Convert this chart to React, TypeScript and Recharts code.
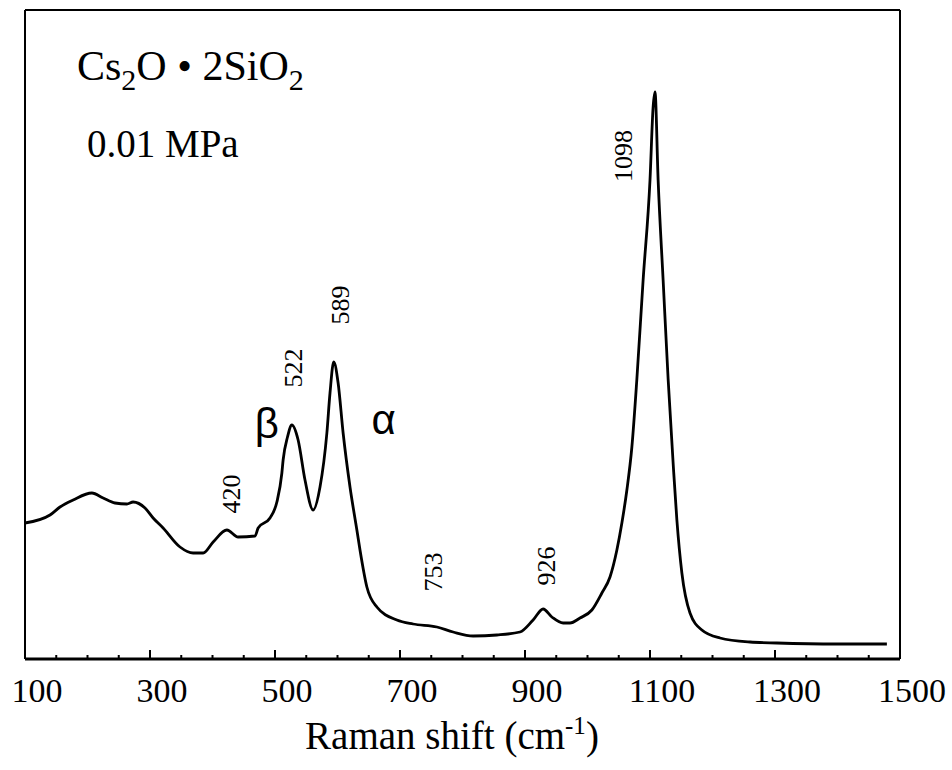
import { LineChart, Line, XAxis, YAxis, ReferenceDot } from 'recharts';

// Raman spectrum (intensity in arbitrary units)
const SHIFT = [
  100, 140, 156, 177, 207, 225, 244, 263, 273, 292, 305, 321, 348, 369, 385, 401, 423, 441, 468, 473,
  492, 503, 511, 513, 520, 527, 537, 548, 561, 572, 583, 588, 594, 601, 609, 620, 631, 636, 647, 663,
  695, 721, 759, 785, 817, 855, 892, 913, 929, 943, 961, 972, 988, 1007, 1023, 1036, 1047, 1055, 1063, 1071,
  1079, 1089, 1100, 1105, 1108, 1113, 1121, 1129, 1137, 1143, 1151, 1164, 1183, 1212, 1260, 1303, 1400, 1479,
];
const INTENSITY = [
  136, 144, 152, 159, 166, 161, 156, 155, 157, 151, 141, 131, 112, 106, 106, 117, 129, 122, 123, 131,
  141, 157, 186, 199, 222, 234, 219, 179, 149, 172, 226, 266, 297, 276, 226, 172, 129, 109, 72, 52,
  39, 35, 32, 27, 23, 24, 27, 39, 50, 42, 36, 36, 41, 49, 66, 82, 109, 136, 169, 212,
  280, 379, 479, 552, 567, 479, 379, 280, 196, 139, 86, 46, 29, 21, 17, 16, 15, 15,
];

const X_TICKS = [100, 150, 200, 250, 300, 350, 400, 450, 500, 550, 600, 650, 700, 750, 800, 850, 900, 950, 1000, 1050, 1100, 1150, 1200, 1250, 1300, 1350, 1400, 1450, 1500];
const X_LABELS = [100, 300, 500, 700, 900, 1100, 1300, 1500];

// peak labels: text, x, y of the label centre
const PEAK_TEXT = ['420', '522', '589', '753', '926', '1098'];
const PEAK_X = [430, 530, 604, 754, 935, 1058];
const PEAK_Y = [165, 291, 354, 87, 93, 503];

const data = SHIFT.map((s, i) => ({ shift: s, intensity: INTENSITY[i] }));

const W = 952;
const H = 770;
const M = { top: 9, right: 51, bottom: 110, left: 24 };
const PLOT_TOP = 10;
const PLOT_BOTTOM = 659;
const SERIF = '"Liberation Serif", "Times New Roman", serif';
const SANS = '"Liberation Sans", Arial, sans-serif';

const BottomTick = ({ x, payload }: any) => {
  const major = X_LABELS.includes(payload.value);
  return (
    <g>
      <line x1={x} x2={x} y1={PLOT_BOTTOM} y2={PLOT_BOTTOM - (major ? 9 : 4)} stroke="#000" strokeWidth={2} />
      {major && (
        <text x={x + 12} y={PLOT_BOTTOM + 43} textAnchor="middle" fontSize={34} fontFamily={SERIF} fill="#000">
          {payload.value}
        </text>
      )}
    </g>
  );
};

const TopTick = ({ x, payload }: any) => {
  const major = X_LABELS.includes(payload.value);
  return <line x1={x} x2={x} y1={PLOT_TOP} y2={PLOT_TOP + (major ? 8 : 4)} stroke="#000" strokeWidth={2} />;
};

const rotatedLabel = (text: string) => (p: any) => (
  <text
    x={p.cx}
    y={p.cy}
    transform={`rotate(-90 ${p.cx} ${p.cy})`}
    textAnchor="middle"
    dominantBaseline="central"
    fontSize={26}
    fontFamily={SERIF}
    fill="#000"
  >
    {text}
  </text>
);

const greekLabel = (text: string) => (p: any) => (
  <text x={p.cx} y={p.cy} textAnchor="middle" dominantBaseline="central" fontSize={42} fontFamily={SANS} fill="#000">
    {text}
  </text>
);

export default function App() {
  return (
    <div style={{ position: 'absolute', left: 0, top: 0, width: W, height: H, background: '#fff' }}>
      <LineChart width={W} height={H} data={data} margin={M}>
        <XAxis
          dataKey="shift"
          type="number"
          domain={[100, 1500]}
          ticks={X_TICKS}
          interval={0}
          height={1}
          tickLine={false}
          tick={<BottomTick />}
          axisLine={{ stroke: '#000', strokeWidth: 3 }}
        />
        <XAxis
          xAxisId="top"
          orientation="top"
          type="number"
          domain={[100, 1500]}
          ticks={X_TICKS}
          interval={0}
          height={1}
          tickLine={false}
          tick={<TopTick />}
          axisLine={{ stroke: '#000', strokeWidth: 2 }}
        />
        <YAxis type="number" domain={[0, 649]} width={1} tick={false} tickLine={false} axisLine={{ stroke: '#000', strokeWidth: 2 }} />
        <YAxis
          yAxisId="right"
          orientation="right"
          type="number"
          domain={[0, 649]}
          width={1}
          tick={false}
          tickLine={false}
          axisLine={{ stroke: '#000', strokeWidth: 2 }}
        />
        <Line
          type="monotone"
          dataKey="intensity"
          stroke="#000"
          strokeWidth={2.8}
          dot={false}
          isAnimationActive={false}
        />
        {PEAK_TEXT.map((t, i) => (
          <ReferenceDot key={t} x={PEAK_X[i]} y={PEAK_Y[i]} r={0} ifOverflow="visible" shape={rotatedLabel(t)} />
        ))}
        <ReferenceDot x={487} y={236} r={0} ifOverflow="visible" shape={greekLabel('β')} />
        <ReferenceDot x={674} y={240} r={0} ifOverflow="visible" shape={greekLabel('α')} />
        <text x={77} y={80} fontSize={42} fontFamily={SERIF} fill="#000">
          Cs<tspan dy={10} fontSize={30}>2</tspan>
          <tspan dy={-10}>O • 2SiO</tspan>
          <tspan dy={10} fontSize={30}>2</tspan>
        </text>
        <text x={87} y={157} fontSize={39} fontFamily={SERIF} fill="#000">
          0.01 MPa
        </text>
        <text x={452} y={749} textAnchor="middle" fontSize={39} fontFamily={SERIF} fill="#000">
          Raman shift (cm<tspan dy={-15} fontSize={25}>-1</tspan>
          <tspan dy={15}>)</tspan>
        </text>
      </LineChart>
    </div>
  );
}
